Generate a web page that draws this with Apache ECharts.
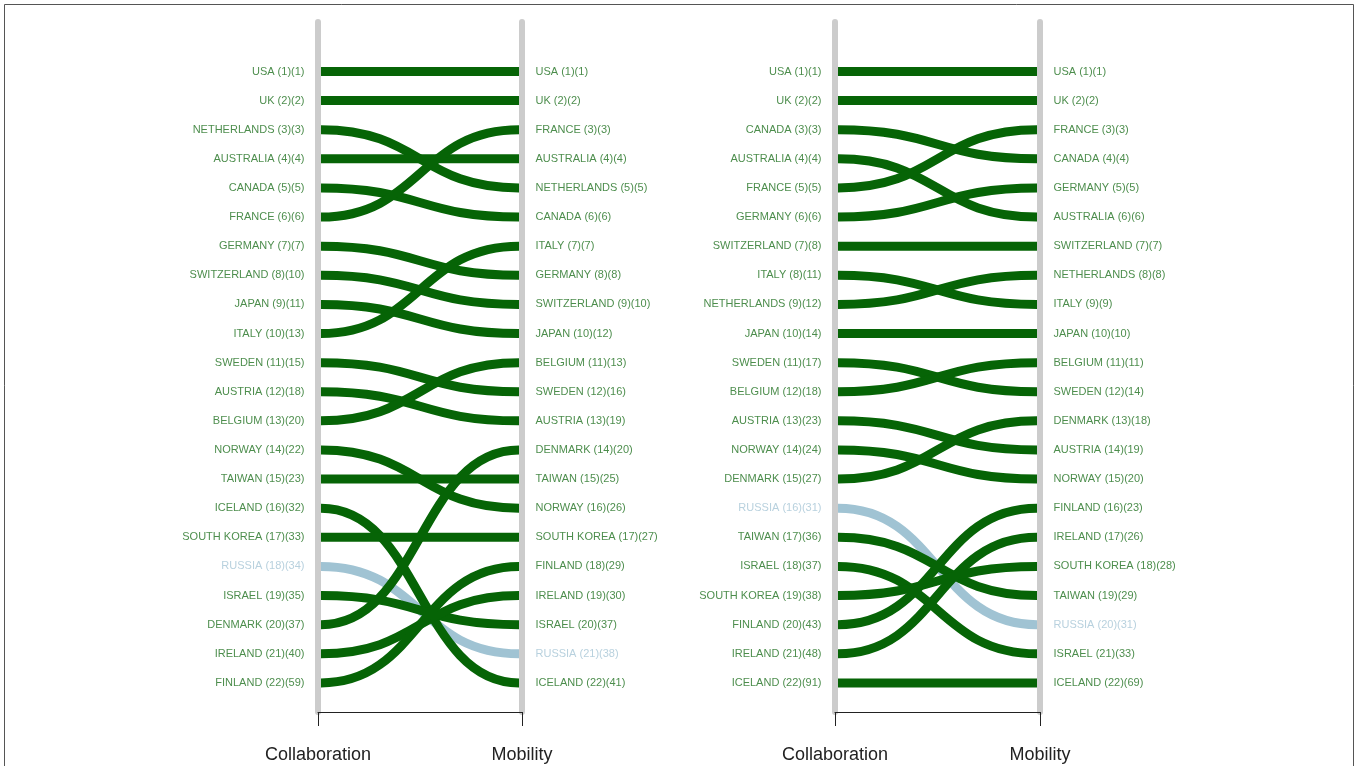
<!DOCTYPE html>
<html>
<head>
<meta charset="utf-8">
<script src="https://cdn.jsdelivr.net/npm/echarts@6/dist/echarts.min.js"></script>
<style>
html,body{margin:0;padding:0;background:#fff;}
#chart{width:1360px;height:766px;}
</style>
</head>
<body>
<div id="chart"></div>
<script>
// ---- Data ----
const axisNames = ['Collaboration', 'Mobility'];

// Left panel
const leftCollabCountries = ['USA','UK','NETHERLANDS','AUSTRALIA','CANADA','FRANCE','GERMANY','SWITZERLAND','JAPAN','ITALY','SWEDEN','AUSTRIA','BELGIUM','NORWAY','TAIWAN','ICELAND','SOUTH KOREA','RUSSIA','ISRAEL','DENMARK','IRELAND','FINLAND'];
const leftCollabScores = [1,2,3,4,5,6,7,10,11,13,15,18,20,22,23,32,33,34,35,37,40,59];
const leftMobCountries = ['USA','UK','FRANCE','AUSTRALIA','NETHERLANDS','CANADA','ITALY','GERMANY','SWITZERLAND','JAPAN','BELGIUM','SWEDEN','AUSTRIA','DENMARK','TAIWAN','NORWAY','SOUTH KOREA','FINLAND','IRELAND','ISRAEL','RUSSIA','ICELAND'];
const leftMobScores = [1,2,3,4,5,6,7,8,10,12,13,16,19,20,25,26,27,29,30,37,38,41];

// Right panel
const rightCollabCountries = ['USA','UK','CANADA','AUSTRALIA','FRANCE','GERMANY','SWITZERLAND','ITALY','NETHERLANDS','JAPAN','SWEDEN','BELGIUM','AUSTRIA','NORWAY','DENMARK','RUSSIA','TAIWAN','ISRAEL','SOUTH KOREA','FINLAND','IRELAND','ICELAND'];
const rightCollabScores = [1,2,3,4,5,6,8,11,12,14,17,18,23,24,27,31,36,37,38,43,48,91];
const rightMobCountries = ['USA','UK','FRANCE','CANADA','GERMANY','AUSTRALIA','SWITZERLAND','NETHERLANDS','ITALY','JAPAN','BELGIUM','SWEDEN','DENMARK','AUSTRIA','NORWAY','FINLAND','IRELAND','SOUTH KOREA','TAIWAN','RUSSIA','ISRAEL','ICELAND'];
const rightMobScores = [1,2,3,4,5,6,7,8,9,10,11,14,18,19,20,23,26,28,29,31,33,69];

const highlightCountry = 'RUSSIA';

// ---- Styles ----
const LINE_GREEN = '#066406';
const LINE_BLUE = '#a0c3d3';
const TEXT_GREEN = '#1f701f';
const TEXT_BLUE = '#a6c6d6';
const FONT = 'Liberation Sans, Arial, sans-serif';

function linkData(cc, mc) {
  const arr = cc.map((c, i) => {
    const j = mc.indexOf(c);
    const hl = c === highlightCountry;
    return { name: c, value: [0, i + 1, j + 1], itemStyle: { color: hl ? LINE_BLUE : LINE_GREEN } };
  });
  arr.sort((a, b) => (a.name === highlightCountry ? -1 : 0) - (b.name === highlightCountry ? -1 : 0));
  return arr;
}
function labelData(countries, scores, x) {
  return countries.map((c, i) => ({
    name: c + ' (' + (i + 1) + ')(' + scores[i] + ')',
    value: [x, i + 1],
    label: { color: c === highlightCountry ? TEXT_BLUE : TEXT_GREEN }
  }));
}

function renderLink(params, api) {
  const p0 = api.coord([0, api.value(1)]);
  const p1 = api.coord([1, api.value(2)]);
  const x0 = p0[0] + 3, x1 = p1[0] - 3;
  const mx = (x0 + x1) / 2;
  return {
    type: 'bezierCurve',
    shape: { x1: x0, y1: p0[1], x2: x1, y2: p1[1], cpx1: mx, cpy1: p0[1], cpx2: mx, cpy2: p1[1] },
    style: { stroke: api.visual('color'), lineWidth: 9, fill: null, lineCap: 'butt' }
  };
}

const grids = [
  { left: 318, right: 1360 - 522, top: 22, bottom: 54 },
  { left: 835, right: 1360 - 1040, top: 22, bottom: 54 }
];

function xAxisFor(g) {
  return {
    type: 'value', gridIndex: g, min: 0, max: 1, interval: 1,
    axisLine: { show: true, onZero: false, lineStyle: { color: '#222', width: 1 } },
    axisTick: { show: true, length: 14, lineStyle: { color: '#222', width: 1 } },
    axisLabel: { margin: 34, fontSize: 18, color: '#222', fontFamily: FONT, formatter: v => axisNames[v] },
    splitLine: { show: false }
  };
}
function yAxisFor(g, pos) {
  return {
    type: 'value', gridIndex: g, min: -0.7, max: 23, inverse: true, position: pos,
    axisLine: { show: true, onZero: false, lineStyle: { color: '#cccccc', width: 6 } },
    axisTick: { show: false }, axisLabel: { show: false }, splitLine: { show: false }
  };
}

function labelSeries(xi, yi, data, pos) {
  return {
    type: 'scatter', xAxisIndex: xi, yAxisIndex: yi, data: data,
    symbolSize: 1, itemStyle: { color: 'rgba(0,0,0,0)' }, silent: true, z: 5,
    label: { show: true, position: pos, distance: 13, formatter: '{b}', fontSize: 11, fontFamily: FONT }
  };
}

const option = {
  animation: false,
  backgroundColor: '#fff',
  graphic: [{ type: 'rect', shape: { x: 4.5, y: 4.5, width: 1349, height: 800 }, style: { fill: null, stroke: '#555', lineWidth: 1 }, z: -10 }],
  grid: grids,
  xAxis: [xAxisFor(0), xAxisFor(1)],
  yAxis: [yAxisFor(0, 'left'), yAxisFor(0, 'right'), yAxisFor(1, 'left'), yAxisFor(1, 'right')],
  series: [
    { type: 'custom', xAxisIndex: 0, yAxisIndex: 0, renderItem: renderLink, data: linkData(leftCollabCountries, leftMobCountries), z: 3, encode: { x: 0, y: [1, 2] } },
    { type: 'custom', xAxisIndex: 1, yAxisIndex: 2, renderItem: renderLink, data: linkData(rightCollabCountries, rightMobCountries), z: 3, encode: { x: 0, y: [1, 2] } },
    labelSeries(0, 0, labelData(leftCollabCountries, leftCollabScores, 0), 'left'),
    labelSeries(0, 0, labelData(leftMobCountries, leftMobScores, 1), 'right'),
    labelSeries(1, 2, labelData(rightCollabCountries, rightCollabScores, 0), 'left'),
    labelSeries(1, 2, labelData(rightMobCountries, rightMobScores, 1), 'right')
  ]
};

const chart = echarts.init(document.getElementById('chart'), null, { renderer: 'canvas' });
chart.setOption(option);
</script>
</body>
</html>
